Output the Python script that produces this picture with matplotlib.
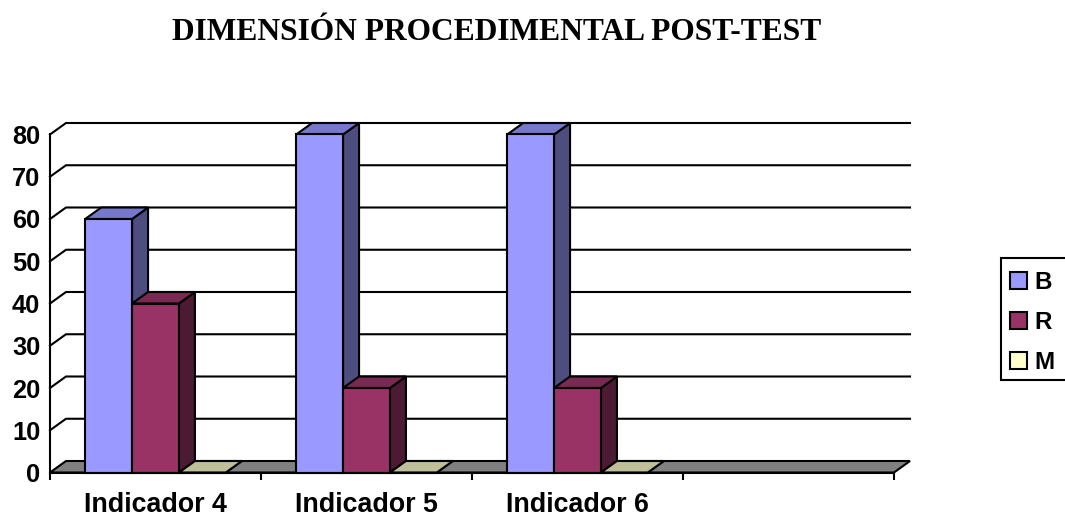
import numpy as np
import matplotlib
matplotlib.use("Agg")
import matplotlib.pyplot as plt
from matplotlib.patches import Polygon, Patch, Rectangle

# Datos
categorias = ["Indicador 4", "Indicador 5", "Indicador 6"]
serie_b = [60, 80, 80]
serie_r = [40, 20, 20]
serie_m = [0, 0, 0]
nombres = ["B", "R", "M"]
valores_y = [0, 10, 20, 30, 40, 50, 60, 70, 80]
num_posiciones = 4  # el eje deja un hueco vacio a la derecha

# Colores: frente, tapa, lateral
colores = [("#9999FF", "#7777CC", "#4D4D80"),
           ("#993366", "#7A2952", "#4D1A33"),
           ("#FFFFCC", "#BFBF99", "#80806A")]
color_piso = "#808080"

W, H = 1065, 517
fig = plt.figure(figsize=(W / 100, H / 100), dpi=100)
plt.rcParams["font.family"] = ["Liberation Sans"]

# Area frontal del grafico en pixeles
x0, x1 = 50, 894
y_base, y_tope = 472.5, 134.5
ax = fig.add_axes([x0 / W, 1 - y_base / H, (x1 - x0) / W, (y_base - y_tope) / H])
ax.set_xlim(0, num_posiciones)
ax.set_ylim(0, 80)
ax.patch.set_visible(False)

# Profundidad del efecto 3D en unidades de datos
dx = 16 / ((x1 - x0) / num_posiciones)
dy = 11.5 / ((y_base - y_tope) / 80)
lw = 1.5

# Lineas de division (pared y lateral)
for v in valores_y[1:]:
    ax.plot([0, dx, num_posiciones + dx], [v, v + dy, v + dy], color="black",
            lw=lw, clip_on=False, zorder=1, solid_joinstyle="miter")

# Piso
ax.add_patch(Polygon([(0, 0), (dx, dy), (num_posiciones + dx, dy), (num_posiciones, 0)],
                     closed=True, facecolor=color_piso, edgecolor="black", lw=lw,
                     clip_on=False, zorder=2))

# Barras 3D
ancho = 1 / 4.5
hueco = ancho * 0.75
series = [serie_b, serie_r, serie_m]
z = 3
for i in range(len(categorias)):
    for j, serie in enumerate(series):
        v = serie[i]
        izq = i + hueco + j * ancho
        der = izq + ancho
        frente, tapa, lateral = colores[j]
        caras = [([(der, 0), (der + dx, dy), (der + dx, v + dy), (der, v)], lateral),
                 ([(izq, v), (izq + dx, v + dy), (der + dx, v + dy), (der, v)], tapa),
                 ([(izq, 0), (der, 0), (der, v), (izq, v)], frente)]
        for puntos, color in caras:
            ax.add_patch(Polygon(puntos, closed=True, facecolor=color, edgecolor="black",
                                 lw=lw, clip_on=False, zorder=z, joinstyle="miter"))
        z += 1

# Ejes
for lado in ["top", "right"]:
    ax.spines[lado].set_visible(False)
for lado in ["left", "bottom"]:
    ax.spines[lado].set_linewidth(lw)
    ax.spines[lado].set_zorder(30)

ax.set_yticks(valores_y)
ax.set_yticklabels([str(v) for v in valores_y], fontsize=18.3, fontweight="bold")
ax.set_xticks(np.arange(num_posiciones + 1))
ax.set_xticklabels([])
ax.set_xticks(np.arange(len(categorias)) + 0.5, minor=True)
ax.set_xticklabels(categorias, minor=True, fontsize=19.3, fontweight="bold")
ax.tick_params(axis="y", length=0, pad=7)
ax.tick_params(axis="x", which="major", length=5, width=lw)
ax.tick_params(axis="x", which="minor", length=0, pad=14)

# Titulo
fig.text(496.5 / W, 1 - 32 / H, "DIMENSIÓN PROCEDIMENTAL POST-TEST", ha="center", va="center",
         fontsize=22.7, fontweight="bold", family="Liberation Serif")

# Leyenda: el marco se sale por la derecha de la imagen
fig.add_artist(Rectangle((1000.5 / W, 1 - 380 / H), 80 / W, 122 / H, transform=fig.transFigure,
                         facecolor="white", edgecolor="black", lw=lw))
manijas = [Patch(facecolor=c[0], edgecolor="black", lw=lw) for c in colores]
fig.legend(manijas, nombres, loc="upper left",
           bbox_to_anchor=(1000.5 / W, 1 - 262 / H), bbox_transform=fig.transFigure,
           borderaxespad=0, frameon=False,
           handlelength=0.72, handleheight=0.72, handletextpad=0.3,
           labelspacing=0.7, borderpad=0.38,
           prop={"size": 17.5, "weight": "bold", "family": "Liberation Sans"})

fig.savefig("out.png", dpi=100)
